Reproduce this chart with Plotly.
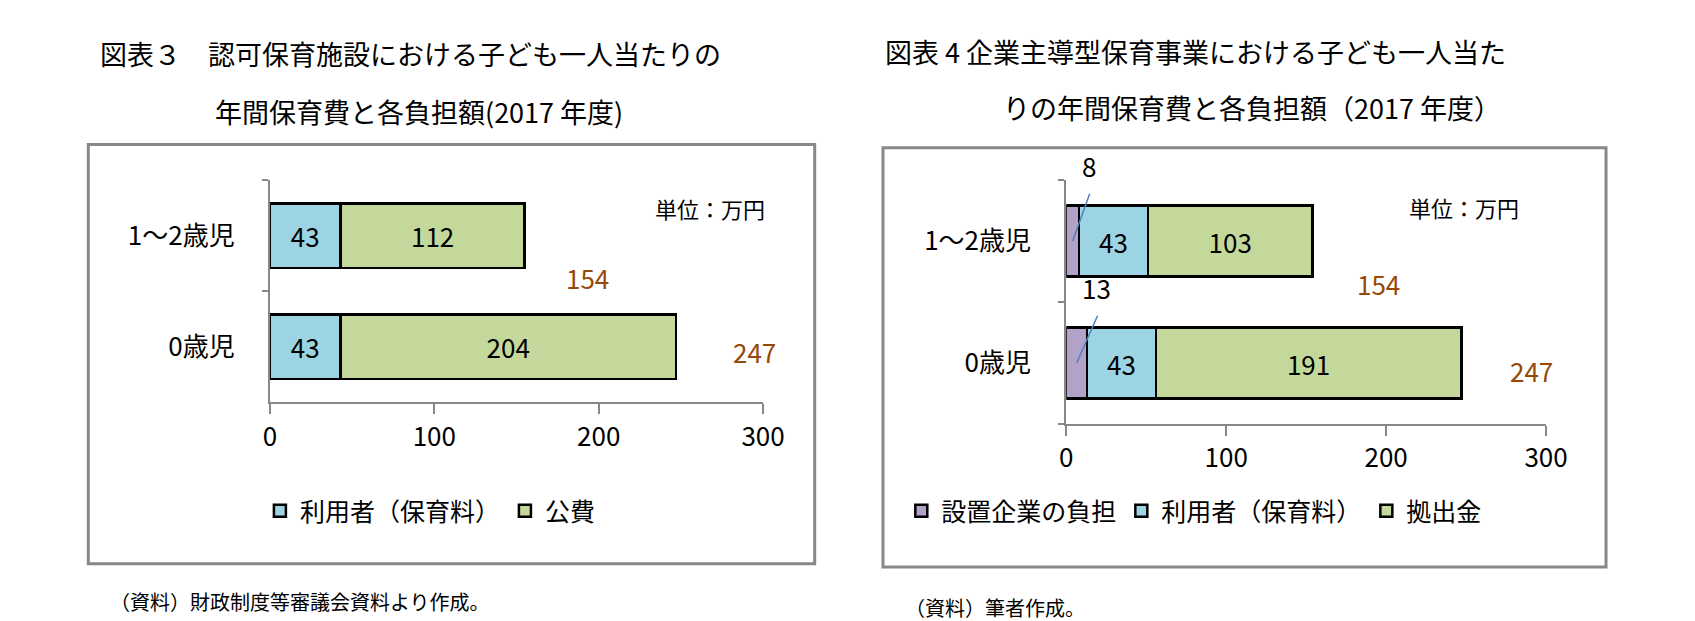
import plotly.graph_objects as go

cats = ["0歳児", "1～2歳児"]
# 図表3
users3 = [43, 43]
public3 = [204, 112]
total3 = [247, 154]
# 図表4
company4 = [13, 8]
users4 = [43, 43]
fund4 = [191, 103]
total4 = [247, 154]

BLUE = "#9DD4E3"
GREEN = "#C4D89B"
PURPLE = "#B3A2C8"
BROWN = "#984807"
FONT = "Noto Sans CJK JP"

fig = go.Figure()
line = dict(color="black", width=2.5)

fig.add_bar(y=cats, x=users3, orientation="h", name="利用者（保育料）", marker=dict(color=BLUE, line=line),
            text=users3, textposition="inside", insidetextanchor="middle", xaxis="x", yaxis="y", legend="legend")
fig.add_bar(y=cats, x=public3, orientation="h", name="公費", marker=dict(color=GREEN, line=line),
            text=public3, textposition="inside", insidetextanchor="middle", xaxis="x", yaxis="y", legend="legend")

fig.add_bar(y=cats, x=company4, orientation="h", name="設置企業の負担", marker=dict(color=PURPLE, line=line),
            xaxis="x2", yaxis="y2", legend="legend2")
fig.add_bar(y=cats, x=users4, orientation="h", name="利用者（保育料）", marker=dict(color=BLUE, line=line),
            text=users4, textposition="inside", insidetextanchor="middle", xaxis="x2", yaxis="y2", legend="legend2")
fig.add_bar(y=cats, x=fund4, orientation="h", name="拠出金", marker=dict(color=GREEN, line=line),
            text=fund4, textposition="inside", insidetextanchor="middle", xaxis="x2", yaxis="y2", legend="legend2")
fig.update_traces(textfont=dict(size=26, color="black"), width=0.58)

ax = dict(range=[0, 300], dtick=100, showgrid=False, showline=True, linecolor="#888", linewidth=2,
          ticks="outside", tickcolor="#888", ticklen=10, tickwidth=2, tickfont=dict(size=26, color="black"), zeroline=False)
ay = dict(range=[-0.5, 1.5], showgrid=False, showline=True, linecolor="#888", linewidth=2,
          ticks="outside", tickcolor="#888", ticklen=6, tickwidth=2, tickson="boundaries",
          tickfont=dict(size=26, color="black"), ticklabelstandoff=28)

fig.update_layout(
    width=1695, height=621, paper_bgcolor="white", plot_bgcolor="white", barmode="stack",
    margin=dict(l=0, r=0, t=0, b=0), font=dict(family=FONT, color="black"), uniformtext=dict(mode="show", minsize=20),
    xaxis=dict(ax, domain=[0.153, 0.449], anchor="y"),
    yaxis=dict(ay, domain=[0.365, 0.723], anchor="x", type="category"),
    xaxis2=dict(ax, domain=[0.631, 0.919], anchor="y2"),
    yaxis2=dict(ay, domain=[0.33, 0.723], anchor="x2", type="category"),
    legend=dict(orientation="h", x=0.147, y=0.19, xanchor="left", yanchor="middle", font=dict(size=25),
                traceorder="normal", itemwidth=30),
    legend2=dict(orientation="h", x=0.532, y=0.19, xanchor="left", yanchor="middle", font=dict(size=25),
                 traceorder="normal", itemwidth=30),
)

ann = []
for i, t in enumerate(total3):
    ann.append(dict(x=[295, 193][i], y=[-0.04, 0.627][i], xref="x", yref="y", text=str(t), showarrow=False,
                    font=dict(size=26, color=BROWN)))
for i, t in enumerate(total4):
    ann.append(dict(x=[291, 195][i], y=[-0.06, 0.65][i], xref="x2", yref="y2", text=str(t), showarrow=False,
                    font=dict(size=26, color=BROWN)))
for i, v in enumerate(company4):
    ann.append(dict(x=v / 2, y=i, xref="x2", yref="y2", ax=[18, 13][i] + 2, ay=[0.5, 1.5][i] - 0.1,
                    axref="x2", ayref="y2", text="", showarrow=True, arrowhead=0, arrowcolor="#4F81BD", arrowwidth=1.5))
    ann.append(dict(x=[18, 13][i] + 1, y=[0.5, 1.5][i] - 0.05, xref="x2", yref="y2", text=str(v), showarrow=False,
                    xanchor="center", yanchor="bottom", font=dict(size=26)))
ann.append(dict(x=268, y=1.25, xref="x", yref="y", text="単位：万円", showarrow=False, font=dict(size=22)))
ann.append(dict(x=249, y=1.28, xref="x2", yref="y2", text="単位：万円", showarrow=False, font=dict(size=22)))
titles = [(0.05, 0.926, "図表３　認可保育施設における子ども一人当たりの"),
          (0.119, 0.833, "年間保育費と各負担額(2017 年度)"),
          (0.521, 0.93, "図表 4 企業主導型保育事業における子ども一人当た"),
          (0.592, 0.84, "りの年間保育費と各負担額（2017 年度）")]
for x, y, t in titles:
    ann.append(dict(x=x, y=y, xref="paper", yref="paper", text=t, showarrow=False, xanchor="left",
                    yanchor="middle", font=dict(size=27)))
ann.append(dict(x=0.056, y=0.044, xref="paper", yref="paper", text="（資料）財政制度等審議会資料より作成。",
                showarrow=False, xanchor="left", yanchor="middle", font=dict(size=20)))
ann.append(dict(x=0.533, y=0.035, xref="paper", yref="paper", text="（資料）筆者作成。",
                showarrow=False, xanchor="left", yanchor="middle", font=dict(size=20)))
fig.update_layout(annotations=ann)

for x0, x1, y0, y1 in [(0.044, 0.48, 0.105, 0.78), (0.521, 0.955, 0.1, 0.775)]:
    fig.add_shape(type="rect", xref="paper", yref="paper", x0=x0, x1=x1, y0=y0, y1=y1,
                  line=dict(color="#888", width=3))

fig.write_html("out.html")
